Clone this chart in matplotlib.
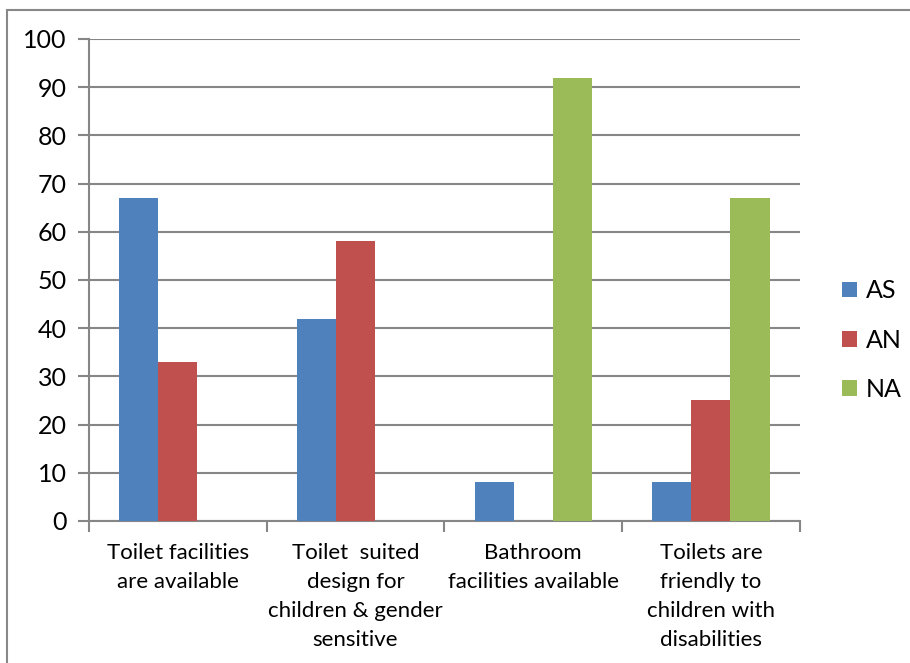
import matplotlib.pyplot as plt
import numpy as np
from matplotlib.patches import Rectangle

categories = [
    "Toilet facilities\nare available",
    "Toilet  suited\ndesign for\nchildren & gender\nsensitive",
    "Bathroom\nfacilities available",
    "Toilets are\nfriendly to\nchildren with\ndisabilities",
]
series_names = ["AS", "AN", "NA"]
as_values = [67, 42, 8, 8]
an_values = [33, 58, 0, 25]
na_values = [0, 0, 92, 67]
colors = ["#4F81BD", "#C0504D", "#9BBB59"]

plt.rcParams["font.family"] = ["Lato", "DejaVu Sans"]

fig = plt.figure(figsize=(9.1, 6.63), dpi=100)
ax = fig.add_axes([0.0978, 0.2142, 0.781, 0.727])

x = np.arange(len(categories))
width = 0.22
handles = []
for i, (vals, name, col) in enumerate(zip([as_values, an_values, na_values], series_names, colors)):
    h = ax.bar(x + (i - 1) * width, vals, width, color=col, label=name, zorder=3)
    handles.append(h)

ax.set_xlim(-0.5, 3.5)
ax.set_ylim(0, 100)
ax.set_yticks(range(0, 101, 10))
ax.tick_params(axis="y", labelsize=18, length=8, width=1.5, color="#868686", pad=8)
ax.yaxis.grid(True, color="#868686", linewidth=1.5, zorder=0)

ax.set_xticks(x)
ax.set_xticklabels(categories, fontsize=16, linespacing=1.55)
ax.tick_params(axis="x", length=0, pad=16)
ax.set_xticks(np.arange(-0.5, 4, 1), minor=True)
ax.tick_params(axis="x", which="minor", length=8, width=1.5, color="#868686")

for s in ["top", "right"]:
    ax.spines[s].set_visible(False)
for s in ["left", "bottom"]:
    ax.spines[s].set_color("#868686")
    ax.spines[s].set_linewidth(1.5)

fig.legend(handles, series_names, loc="center left", bbox_to_anchor=(0.925, 0.487),
           frameon=False, fontsize=18, labelspacing=1.05, handlelength=0.6,
           handleheight=0.6, handletextpad=0.35, borderaxespad=0, borderpad=0)

fig.patches.append(Rectangle((7 / 910, -0.1), 1.2, 1.1 - 10 / 663, transform=fig.transFigure,
                             fill=False, edgecolor="#888888", linewidth=1.5))

fig.savefig("out.png", dpi=100)
